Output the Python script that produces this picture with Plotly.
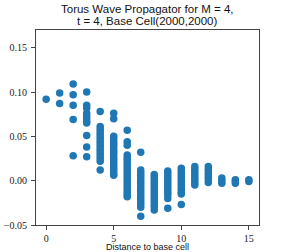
import plotly.graph_objects as go

distances = list(range(16))
v0 = [0.092]
v1 = [0.099, 0.087]
v2 = [0.109, 0.097, 0.085, 0.069, 0.028]
v3 = [0.100, 0.085, 0.082, 0.076, 0.073, 0.070, 0.067, 0.065, 0.051, 0.038, 0.027]
v4 = [0.078, 0.061, 0.058, 0.055, 0.052, 0.049, 0.046, 0.043, 0.040, 0.037, 0.034,
      0.031, 0.028, 0.025, 0.022, 0.012]
v5 = [0.076, 0.070, 0.050, 0.047, 0.044, 0.041, 0.038, 0.035, 0.032, 0.029, 0.026,
      0.023, 0.020, 0.017, 0.014, 0.011, 0.008, 0.006]
v6 = [0.057, 0.044, 0.040, 0.029, 0.026, 0.023, 0.020, 0.017, 0.014, 0.011, 0.008,
      0.005, 0.002, -0.001, -0.004, -0.007, -0.010, -0.013, -0.016, -0.018]
v7 = [0.032, 0.012, 0.009, 0.006, 0.003, 0.000, -0.003, -0.006, -0.009, -0.012,
      -0.015, -0.018, -0.021, -0.024, -0.027, -0.030, -0.040]
v8 = [0.007, 0.004, 0.001, -0.002, -0.005, -0.008, -0.011, -0.014, -0.017, -0.020,
      -0.023, -0.026, -0.029, -0.033]
v9 = [0.011, 0.008, 0.005, 0.002, -0.001, -0.004, -0.007, -0.010, -0.013, -0.016,
      -0.020, -0.031]
v10 = [0.014, 0.011, 0.008, 0.005, 0.002, -0.001, -0.004, -0.007, -0.010, -0.013,
       -0.015, -0.027]
v11 = [0.016, 0.013, 0.010, 0.007, 0.004, 0.001, -0.002, -0.005]
v12 = [0.016, 0.013, 0.010, 0.007, 0.004, 0.001, -0.002]
v13 = [0.003, 0.000, -0.003]
v14 = [0.001, -0.001, -0.003]
v15 = [0.001, -0.001]

series = [v0, v1, v2, v3, v4, v5, v6, v7, v8, v9, v10, v11, v12, v13, v14, v15]
xs, ys = [], []
for d, vals in zip(distances, series):
    xs += [d] * len(vals)
    ys += vals

x_ticks = [0, 5, 10, 15]
y_ticks = [-0.05, 0.00, 0.05, 0.10, 0.15]
title_line1 = "Torus Wave Propagator for M = 4,"
title_line2 = "t = 4, Base Cell(2000,2000)"
x_label = "Distance to base cell"

fig = go.Figure(go.Scatter(
    x=xs, y=ys, mode="markers",
    marker=dict(color="#1f77b4", size=7.5, line=dict(width=0)),
))

axis_common = dict(
    showgrid=False, zeroline=False, showline=True, mirror=True,
    linecolor="#444", linewidth=1, ticks="outside", ticklen=4,
    tickcolor="#444", tickwidth=1, automargin=False,
    tickfont=dict(family="Liberation Serif", size=10, color="#222"),
)

title_font = dict(family="Liberation Sans", size=11.5, color="#111")

fig.update_layout(
    width=288, height=252,
    margin=dict(l=36, r=29, t=30, b=27, pad=0),
    paper_bgcolor="white", plot_bgcolor="white",
    showlegend=False,
    xaxis=dict(range=[-0.75, 15.75], tickvals=x_ticks, **axis_common),
    yaxis=dict(range=[-0.05, 0.17], tickvals=y_ticks, tickformat=".2f",
               ticklabelstandoff=2, **axis_common),
    annotations=[
        dict(text=title_line1, xref="paper", yref="paper", x=0.497, y=1,
             xanchor="center", yanchor="middle", yshift=21, showarrow=False,
             font=title_font),
        dict(text=title_line2, xref="paper", yref="paper", x=0.497, y=1,
             xanchor="center", yanchor="middle", yshift=9, showarrow=False,
             font=title_font),
        dict(text=x_label, xref="paper", yref="paper", x=0.5, y=0,
             xanchor="center", yanchor="middle", yshift=-21.5, showarrow=False,
             borderpad=0,
             font=dict(family="Liberation Sans", size=9, color="#111")),
    ],
)

fig.write_html("out.html", config={"displayModeBar": False},
               post_script="document.body.style.margin='0';")
